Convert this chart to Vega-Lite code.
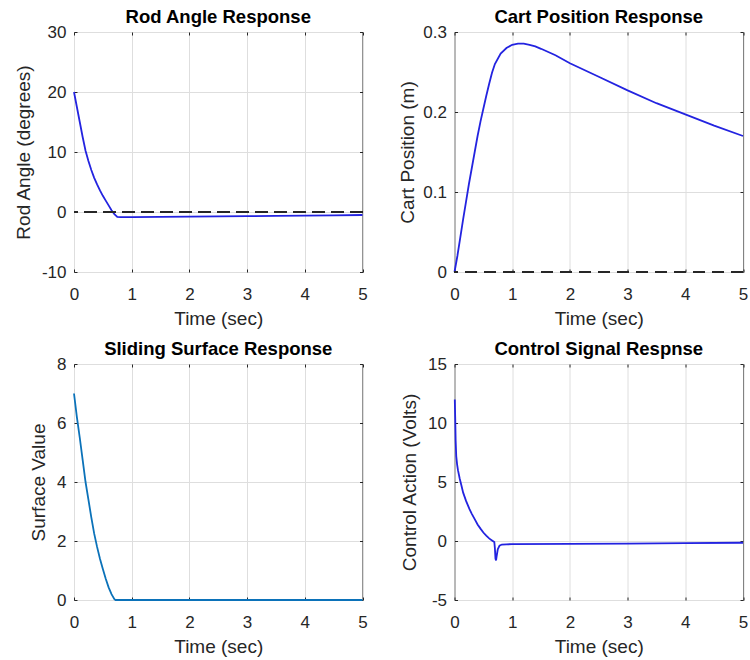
{
  "$schema": "https://vega.github.io/schema/vega-lite/v6.json",
  "padding": {"left": 13, "top": 7, "right": 5, "bottom": 0},
  "background": "white",
  "datasets": {
    "rod": [
      {"t": 0, "v": 20}, {"t": 0.05, "v": 17.5}, {"t": 0.1, "v": 15.0}, {"t": 0.15, "v": 12.5},
      {"t": 0.2, "v": 10.2}, {"t": 0.25, "v": 8.5}, {"t": 0.3, "v": 7.0}, {"t": 0.35, "v": 5.7},
      {"t": 0.4, "v": 4.6}, {"t": 0.45, "v": 3.6}, {"t": 0.5, "v": 2.7}, {"t": 0.55, "v": 1.9},
      {"t": 0.6, "v": 1.1}, {"t": 0.65, "v": 0.3}, {"t": 0.7, "v": -0.35}, {"t": 0.75, "v": -0.8},
      {"t": 0.8, "v": -0.85}, {"t": 1.0, "v": -0.85}, {"t": 1.5, "v": -0.82}, {"t": 2, "v": -0.78},
      {"t": 2.5, "v": -0.74}, {"t": 3, "v": -0.7}, {"t": 3.5, "v": -0.65}, {"t": 4, "v": -0.6},
      {"t": 4.5, "v": -0.55}, {"t": 5, "v": -0.5}
    ],
    "cart": [
      {"t": 0, "v": 0}, {"t": 0.05, "v": 0.02}, {"t": 0.1, "v": 0.043}, {"t": 0.15, "v": 0.066},
      {"t": 0.2, "v": 0.088}, {"t": 0.25, "v": 0.11}, {"t": 0.3, "v": 0.13}, {"t": 0.35, "v": 0.15},
      {"t": 0.4, "v": 0.17}, {"t": 0.45, "v": 0.188}, {"t": 0.5, "v": 0.204}, {"t": 0.55, "v": 0.22},
      {"t": 0.6, "v": 0.235}, {"t": 0.65, "v": 0.249}, {"t": 0.7, "v": 0.26}, {"t": 0.8, "v": 0.273},
      {"t": 0.9, "v": 0.28}, {"t": 1.0, "v": 0.284}, {"t": 1.1, "v": 0.2855}, {"t": 1.2, "v": 0.2855},
      {"t": 1.3, "v": 0.284}, {"t": 1.4, "v": 0.282}, {"t": 1.5, "v": 0.279}, {"t": 1.75, "v": 0.271},
      {"t": 2, "v": 0.261}, {"t": 2.5, "v": 0.244}, {"t": 3, "v": 0.227}, {"t": 3.5, "v": 0.211},
      {"t": 4, "v": 0.197}, {"t": 4.5, "v": 0.183}, {"t": 5, "v": 0.17}
    ],
    "surf": [
      {"t": 0, "v": 7.0}, {"t": 0.05, "v": 6.2}, {"t": 0.1, "v": 5.5}, {"t": 0.15, "v": 4.75},
      {"t": 0.2, "v": 4.0}, {"t": 0.25, "v": 3.4}, {"t": 0.3, "v": 2.8}, {"t": 0.35, "v": 2.25},
      {"t": 0.4, "v": 1.8}, {"t": 0.45, "v": 1.4}, {"t": 0.5, "v": 1.05}, {"t": 0.55, "v": 0.72},
      {"t": 0.6, "v": 0.43}, {"t": 0.65, "v": 0.2}, {"t": 0.7, "v": 0.03}, {"t": 0.72, "v": 0},
      {"t": 1, "v": 0}, {"t": 2, "v": 0}, {"t": 3, "v": 0}, {"t": 4, "v": 0}, {"t": 5, "v": 0}
    ],
    "ctrl": [
      {"t": 0.005, "v": 12.0}, {"t": 0.012, "v": 10.5}, {"t": 0.02, "v": 8.5}, {"t": 0.03, "v": 7.2},
      {"t": 0.045, "v": 6.5}, {"t": 0.06, "v": 6.0}, {"t": 0.09, "v": 5.3}, {"t": 0.12, "v": 4.7},
      {"t": 0.15, "v": 4.1}, {"t": 0.2, "v": 3.4}, {"t": 0.26, "v": 2.7}, {"t": 0.3, "v": 2.3},
      {"t": 0.35, "v": 1.85}, {"t": 0.4, "v": 1.4}, {"t": 0.45, "v": 1.05}, {"t": 0.5, "v": 0.72},
      {"t": 0.55, "v": 0.45}, {"t": 0.6, "v": 0.22}, {"t": 0.65, "v": 0.05}, {"t": 0.69, "v": -0.08},
      {"t": 0.7, "v": -0.6}, {"t": 0.71, "v": -1.5}, {"t": 0.72, "v": -1.65}, {"t": 0.73, "v": -1.3},
      {"t": 0.75, "v": -0.7}, {"t": 0.78, "v": -0.4}, {"t": 0.82, "v": -0.3}, {"t": 0.9, "v": -0.28},
      {"t": 1, "v": -0.27}, {"t": 2, "v": -0.25}, {"t": 3, "v": -0.22}, {"t": 4, "v": -0.18},
      {"t": 5, "v": -0.15}
    ]
  },
  "config": {
    "font": "Liberation Sans",
    "view": {"stroke": "#262626", "strokeWidth": 1},
    "axis": {
      "labelFont": "Liberation Sans", "labelFontSize": 17, "labelColor": "#262626",
      "titleFont": "Liberation Sans", "titleFontSize": 19, "titleFontWeight": "normal", "titleColor": "#262626",
      "gridColor": "#dedede", "gridOpacity": 1, "domain": false, "labelFlush": false,
      "tickColor": "#262626", "tickSize": -3, "labelExpr": "'' + datum.value"
    },
    "axisX": {"labelPadding": 30, "labelBaseline": "alphabetic", "titleBaseline": "alphabetic", "titleY": 52.5},
    "axisY": {"labelPadding": 11, "titleBaseline": "middle"},
    "title": {"font": "Liberation Sans", "fontSize": 18.5, "fontWeight": "bold", "color": "#000000", "offset": -3, "baseline": "alphabetic"}
  },
  "columns": 2,
  "spacing": {"row": 92, "column": 91.5},
  "bounds": "flush",
  "concat": [
    {
      "title": "Rod Angle Response",
      "width": 288.5, "height": 240,
      "data": {"name": "rod"},
      "layer": [
        {
          "mark": {"type": "line", "color": "#2323e0", "strokeWidth": 1.8},
          "encoding": {
            "x": {"field": "t", "type": "quantitative", "scale": {"domain": [0, 5], "nice": false},
                  "axis": {"orient": "bottom", "values": [0, 1, 2, 3, 4, 5], "title": "Time (sec)"}},
            "y": {"field": "v", "type": "quantitative", "scale": {"domain": [-10, 30], "nice": false},
                  "axis": {"orient": "left", "values": [-10, 0, 10, 20, 30], "title": "Rod Angle (degrees)", "titleX": -51}}
          }
        },
        {
          "mark": {"type": "line", "opacity": 0},
          "encoding": {
            "x": {"field": "t", "type": "quantitative", "axis": {"orient": "top", "values": [0, 1, 2, 3, 4, 5], "labels": false, "grid": false, "title": null}},
            "y": {"field": "v", "type": "quantitative", "axis": {"orient": "right", "values": [-10, 0, 10, 20, 30], "labels": false, "grid": false, "title": null}}
          }
        },
        {
          "mark": {"type": "rule", "color": "#262626", "strokeWidth": 1.8, "strokeDash": [12, 7]},
          "encoding": {"y": {"datum": 0, "axis": null}}
        }
      ],
      "resolve": {"axis": {"x": "independent", "y": "independent"}}
    },
    {
      "title": "Cart Position Response",
      "width": 288.5, "height": 240,
      "data": {"name": "cart"},
      "layer": [
        {
          "mark": {"type": "line", "color": "#2323e0", "strokeWidth": 1.8},
          "encoding": {
            "x": {"field": "t", "type": "quantitative", "scale": {"domain": [0, 5], "nice": false},
                  "axis": {"orient": "bottom", "values": [0, 1, 2, 3, 4, 5], "title": "Time (sec)"}},
            "y": {"field": "v", "type": "quantitative", "scale": {"domain": [0, 0.3], "nice": false},
                  "axis": {"orient": "left", "values": [0, 0.1, 0.2, 0.3], "title": "Cart Position (m)", "titleX": -47}}
          }
        },
        {
          "mark": {"type": "line", "opacity": 0},
          "encoding": {
            "x": {"field": "t", "type": "quantitative", "axis": {"orient": "top", "values": [0, 1, 2, 3, 4, 5], "labels": false, "grid": false, "title": null}},
            "y": {"field": "v", "type": "quantitative", "axis": {"orient": "right", "values": [0, 0.1, 0.2, 0.3], "labels": false, "grid": false, "title": null}}
          }
        },
        {
          "mark": {"type": "rule", "color": "#262626", "strokeWidth": 1.8, "strokeDash": [12, 7]},
          "encoding": {"y": {"datum": 0, "axis": null}}
        }
      ],
      "resolve": {"axis": {"x": "independent", "y": "independent"}}
    },
    {
      "title": "Sliding Surface Response",
      "width": 288.5, "height": 236,
      "data": {"name": "surf"},
      "layer": [
        {
          "mark": {"type": "line", "color": "#0b72b9", "strokeWidth": 1.8},
          "encoding": {
            "x": {"field": "t", "type": "quantitative", "scale": {"domain": [0, 5], "nice": false},
                  "axis": {"orient": "bottom", "values": [0, 1, 2, 3, 4, 5], "title": "Time (sec)"}},
            "y": {"field": "v", "type": "quantitative", "scale": {"domain": [0, 8], "nice": false},
                  "axis": {"orient": "left", "values": [0, 2, 4, 6, 8], "title": "Surface Value", "titleX": -36}}
          }
        },
        {
          "mark": {"type": "line", "opacity": 0},
          "encoding": {
            "x": {"field": "t", "type": "quantitative", "axis": {"orient": "top", "values": [0, 1, 2, 3, 4, 5], "labels": false, "grid": false, "title": null}},
            "y": {"field": "v", "type": "quantitative", "axis": {"orient": "right", "values": [0, 2, 4, 6, 8], "labels": false, "grid": false, "title": null}}
          }
        }
      ],
      "resolve": {"axis": {"x": "independent", "y": "independent"}}
    },
    {
      "title": "Control Signal Respnse",
      "width": 288.5, "height": 236,
      "data": {"name": "ctrl"},
      "layer": [
        {
          "mark": {"type": "line", "color": "#2323e0", "strokeWidth": 1.8},
          "encoding": {
            "x": {"field": "t", "type": "quantitative", "scale": {"domain": [0, 5], "nice": false},
                  "axis": {"orient": "bottom", "values": [0, 1, 2, 3, 4, 5], "title": "Time (sec)"}},
            "y": {"field": "v", "type": "quantitative", "scale": {"domain": [-5, 15], "nice": false},
                  "axis": {"orient": "left", "values": [-5, 0, 5, 10, 15], "title": "Control Action (Volts)", "titleX": -45}}
          }
        },
        {
          "mark": {"type": "line", "opacity": 0},
          "encoding": {
            "x": {"field": "t", "type": "quantitative", "axis": {"orient": "top", "values": [0, 1, 2, 3, 4, 5], "labels": false, "grid": false, "title": null}},
            "y": {"field": "v", "type": "quantitative", "axis": {"orient": "right", "values": [-5, 0, 5, 10, 15], "labels": false, "grid": false, "title": null}}
          }
        }
      ],
      "resolve": {"axis": {"x": "independent", "y": "independent"}}
    }
  ]
}
